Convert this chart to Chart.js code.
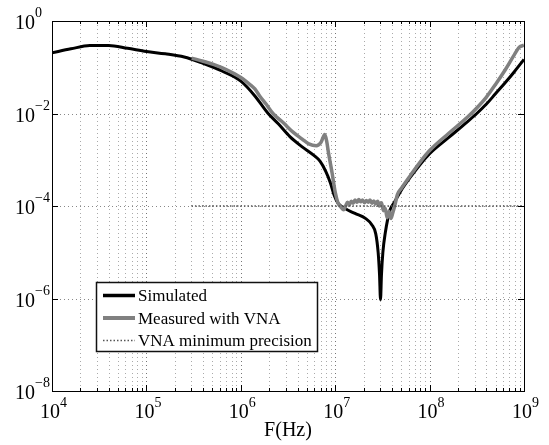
<!DOCTYPE html>
<html>
<head>
<meta charset="utf-8">
<script src="https://cdn.jsdelivr.net/npm/chart.js@4/dist/chart.umd.min.js"></script>
<style>
  html, body { margin: 0; padding: 0; background: #fff; }
  canvas { display: block; }
</style>
</head>
<body>
<canvas id="c" width="549" height="445"></canvas>
<script>
// ---- data (frequency in Hz, magnitude) ----
const simFreq = [1e4, 1.585e4, 2.512e4, 3.98e4, 6.31e4, 1e5, 1.585e5, 2.512e5, 3.98e5, 5.13e5, 6.31e5,
  1e6, 1.41e6, 1.95e6, 2.51e6, 3.31e6, 4.47e6, 5.9e6, 6.9e6, 7.94e6, 8.9e6, 9.8e6,
  1.07e7, 1.26e7, 1.62e7, 2.09e7, 2.45e7, 2.69e7, 2.85e7, 2.95e7, 3.02e7, 3.09e7, 3.2e7,
  3.39e7, 3.8e7, 4.27e7, 5.01e7, 6.31e7, 7.94e7, 1e8, 1.585e8, 2.51e8, 3.16e8, 3.98e8,
  5.01e8, 6.31e8, 7.94e8, 1e9];
const simVal = [0.206, 0.25, 0.295, 0.295, 0.257, 0.219, 0.195, 0.166, 0.122, 0.1, 0.083,
  0.05, 0.024, 0.01, 5.9e-3, 3.16e-3, 1.9e-3, 1.26e-3, 9.3e-4, 5.6e-4, 3.16e-4, 1.66e-4,
  1.15e-4, 8.9e-5, 6.9e-5, 5.4e-5, 3.9e-5, 2.5e-5, 1e-5, 3.2e-6, 9.5e-7, 3.2e-6, 1e-5,
  2.6e-5, 8.1e-5, 1.23e-4, 2.2e-4, 4.3e-4, 7.9e-4, 1.35e-3, 3.0e-3, 6.6e-3, 1.0e-2, 1.58e-2,
  2.7e-2, 4.6e-2, 8.1e-2, 0.148];

const measFreq = [3.02e5, 3.98e5, 5.13e5, 7.08e5, 1e6, 1.26e6, 1.41e6, 1.585e6, 1.86e6, 2.19e6,
  2.82e6, 3.55e6, 4.47e6, 5.25e6, 6.31e6, 7.08e6, 7.76e6, 8.13e6, 8.5e6, 9.3e6, 1e7,
  1.07e7, 1.15e7, 1.23e7, 1.29e7, 1.35e7, 1.41e7, 1.48e7, 1.55e7, 1.62e7, 1.7e7, 1.78e7,
  1.86e7, 1.95e7, 2.04e7, 2.14e7, 2.24e7, 2.34e7, 2.45e7, 2.57e7, 2.69e7, 2.82e7, 2.95e7,
  3.09e7, 3.24e7, 3.39e7, 3.55e7, 3.72e7, 3.89e7, 4.07e7, 4.27e7, 4.57e7, 5.01e7, 6.31e7,
  7.94e7, 1e8, 1.585e8, 2.51e8, 3.16e8, 3.98e8, 5.01e8, 6.31e8, 7.94e8, 8.9e8, 1e9];
const measVal = [0.158, 0.135, 0.115, 0.088, 0.06, 0.0417, 0.0339, 0.0240, 0.0158, 0.01,
  6.3e-3, 4.0e-3, 2.8e-3, 2.2e-3, 2.0e-3, 2.4e-3, 3.5e-3, 2.5e-3, 1.4e-3, 5e-4, 2e-4,
  1.17e-4, 9.5e-5, 8.3e-5, 1e-4, 1.2e-4, 1.07e-4, 1.26e-4, 1.15e-4, 1.35e-4, 1.2e-4, 1.38e-4,
  1.23e-4, 1.35e-4, 1.17e-4, 1.32e-4, 1.2e-4, 1.35e-4, 1.15e-4, 1.29e-4, 1.1e-4, 1.26e-4, 1e-4,
  1.17e-4, 7.9e-5, 8.9e-5, 5.6e-5, 7.6e-5, 5.4e-5, 7.1e-5, 1e-4, 1.78e-4, 2.4e-4, 4.7e-4,
  8.9e-4, 1.58e-3, 3.7e-3, 8.3e-3, 1.32e-2, 2.24e-2, 4.3e-2, 8.7e-2, 0.19, 0.27, 0.3];

const vnaFreq = [3e5, 1e9];
const vnaVal = [1e-4, 1e-4];

const xTickExps = [4, 5, 6, 7, 8, 9];
const yTickExps = [0, -2, -4, -6, -8];
const seriesNames = ['Simulated', 'Measured with VNA', 'VNA minimum precision'];
const xAxisTitle = 'F(Hz)';

const toPts = (xs, ys) => xs.map((x, i) => ({ x: x, y: ys[i] }));
const SERIF = '"Liberation Serif", "DejaVu Serif", serif';

function supLabel(exp) {
  return exp < 0 ? '\u2212' + Math.abs(exp) : String(exp);
}

const decorPlugin = {
  id: 'decor',
  beforeDatasetsDraw(chart) {
    const ctx = chart.ctx, a = chart.chartArea;
    const xs = chart.scales.x, ys = chart.scales.y;
    ctx.save();
    ctx.lineWidth = 1;
    ctx.setLineDash([1, 3]);
    for (let d = xTickExps[0]; d < xTickExps[xTickExps.length - 1]; d++) {
      for (let m = 1; m <= 9; m++) {
        if (d === xTickExps[0] && m === 1) continue;
        const px = Math.round(xs.getPixelForValue(m * Math.pow(10, d))) + 0.5;
        ctx.strokeStyle = m === 1 ? '#777' : '#aaa';
        ctx.beginPath();
        ctx.moveTo(px, a.top);
        ctx.lineTo(px, a.bottom);
        ctx.stroke();
      }
    }
    ctx.strokeStyle = '#888';
    yTickExps.forEach(e => {
      if (e === 0 || e === -8) return;
      const py = Math.round(ys.getPixelForValue(Math.pow(10, e))) + 0.5;
      ctx.beginPath();
      ctx.moveTo(a.left, py);
      ctx.lineTo(a.right, py);
      ctx.stroke();
    });
    ctx.restore();
  },
  afterDraw(chart) {
    const ctx = chart.ctx, a = chart.chartArea;
    const xs = chart.scales.x, ys = chart.scales.y;
    ctx.save();
    ctx.setLineDash([]);
    ctx.strokeStyle = '#000';
    ctx.lineWidth = 1;
    ctx.strokeRect(Math.round(a.left) + 0.5, Math.round(a.top) + 0.5,
      Math.round(a.right - a.left), Math.round(a.bottom - a.top));
    for (let d = xTickExps[0]; d <= xTickExps[xTickExps.length - 1]; d++) {
      for (let m = 1; m <= 9; m++) {
        if (d === xTickExps[xTickExps.length - 1] && m > 1) break;
        const px = Math.round(xs.getPixelForValue(m * Math.pow(10, d))) + 0.5;
        const len = m === 1 ? 6 : 3;
        ctx.beginPath();
        ctx.moveTo(px, a.bottom); ctx.lineTo(px, a.bottom - len);
        ctx.moveTo(px, a.top); ctx.lineTo(px, a.top + len);
        ctx.stroke();
      }
    }
    yTickExps.forEach(e => {
      const py = Math.round(ys.getPixelForValue(Math.pow(10, e))) + 0.5;
      ctx.beginPath();
      ctx.moveTo(a.left, py); ctx.lineTo(a.left + 6, py);
      ctx.moveTo(a.right, py); ctx.lineTo(a.right - 6, py);
      ctx.stroke();
    });
    ctx.fillStyle = '#000';
    ctx.textBaseline = 'alphabetic';
    ctx.textAlign = 'left';
    xTickExps.forEach(e => {
      const px = xs.getPixelForValue(Math.pow(10, e));
      ctx.font = '20px ' + SERIF;
      const baseW = ctx.measureText('10').width;
      ctx.fillText('10', px - 12, 418);
      ctx.font = '14px ' + SERIF;
      ctx.fillText(supLabel(e), px - 12 + baseW, 407);
    });
    yTickExps.forEach(e => {
      const py = ys.getPixelForValue(Math.pow(10, e));
      ctx.font = '20px ' + SERIF;
      const baseW = ctx.measureText('10').width;
      ctx.fillText('10', 15, py + 8);
      ctx.font = '14px ' + SERIF;
      ctx.fillText(supLabel(e), 15 + baseW, py - 4);
    });
    ctx.font = '20px ' + SERIF;
    ctx.textAlign = 'center';
    ctx.fillText(xAxisTitle, (a.left + a.right) / 2, 436);
    const lx = 96.5, ly = 282.5, lw = 221, lh = 69;
    ctx.fillStyle = '#fff';
    ctx.fillRect(lx, ly, lw, lh);
    ctx.strokeStyle = '#111';
    ctx.lineWidth = 1.5;
    ctx.strokeRect(lx, ly, lw, lh);
    const rows = [295.5, 318, 340.5];
    const styles = chart.data.datasets;
    rows.forEach((ry, i) => {
      const ds = styles[i];
      ctx.strokeStyle = ds.borderColor;
      ctx.lineWidth = i === 2 ? 1.5 : ds.borderWidth + 0.5;
      ctx.setLineDash(ds.borderDash || []);
      ctx.beginPath();
      ctx.moveTo(103, ry);
      ctx.lineTo(135, ry);
      ctx.stroke();
      ctx.setLineDash([]);
      ctx.fillStyle = '#000';
      ctx.textAlign = 'left';
      ctx.font = '17px ' + SERIF;
      ctx.fillText(seriesNames[i], 138, ry + 5.5);
    });
    ctx.restore();
  }
};

new Chart(document.getElementById('c'), {
  type: 'scatter',
  data: {
    datasets: [
      {
        label: seriesNames[0],
        data: toPts(simFreq, simVal),
        showLine: true,
        borderColor: '#000',
        borderWidth: 3,
        pointRadius: 0,
        cubicInterpolationMode: 'monotone',
        order: 2
      },
      {
        label: seriesNames[1],
        data: toPts(measFreq, measVal),
        showLine: true,
        borderColor: '#808080',
        borderWidth: 3.5,
        pointRadius: 0,
        cubicInterpolationMode: 'monotone',
        order: 1
      },
      {
        label: seriesNames[2],
        data: toPts(vnaFreq, vnaVal),
        showLine: true,
        borderColor: '#555',
        borderWidth: 1.5,
        borderDash: [1.5, 2],
        pointRadius: 0,
        order: 0
      }
    ]
  },
  options: {
    responsive: false,
    animation: false,
    devicePixelRatio: 1,
    layout: { padding: { left: 52, top: 21, right: 25, bottom: 54 } },
    plugins: { legend: { display: false }, tooltip: { enabled: false } },
    scales: {
      x: { type: 'logarithmic', min: 1e4, max: 1e9, display: false },
      y: { type: 'logarithmic', min: 1e-8, max: 1, display: false }
    }
  },
  plugins: [decorPlugin]
});
</script>
</body>
</html>
